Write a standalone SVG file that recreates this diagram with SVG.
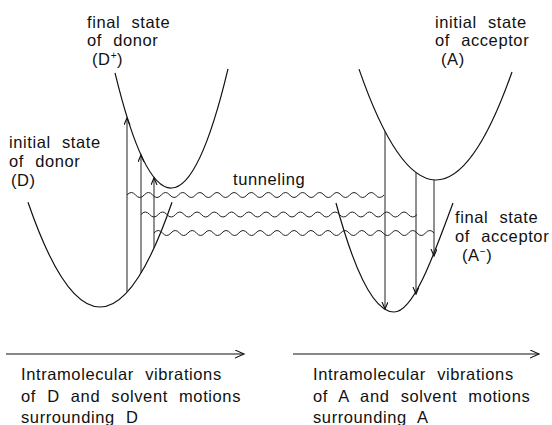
<svg xmlns="http://www.w3.org/2000/svg" width="552" height="425" viewBox="0 0 552 425">
<style>
  .c{fill:none;stroke:#111;stroke-width:1.2}
  .t{fill:none;stroke:#222;stroke-width:1}
  .w{fill:none;stroke:#222;stroke-width:1}
  text{font-family:"Liberation Sans",Arial,Helvetica,sans-serif;font-size:16.5px;fill:#111;letter-spacing:0.6px;word-spacing:6px}
  .sup{font-size:10px}
</style>
<defs>
  <marker id="ah" markerUnits="userSpaceOnUse" markerWidth="10" markerHeight="10" refX="7" refY="3" orient="auto">
    <path d="M0,0 L7,3 L0,6" fill="none" stroke="#111" stroke-width="1.1"/>
  </marker>
  <marker id="ax" markerUnits="userSpaceOnUse" markerWidth="12" markerHeight="12" refX="9" refY="4" orient="auto">
    <path d="M0,0 L9,4 L0,8" fill="none" stroke="#111" stroke-width="1.1"/>
  </marker>
</defs>

<g id="curve-D">
  <path class="c" d="M28,202.3 Q100,411.7 172,202.3"/>
</g>
<g id="curve-Dplus">
  <path class="c" d="M115,72.9 Q171.5,305.2 228,68.8"/>
</g>
<g id="curve-A">
  <path class="c" d="M359,69.1 Q435.5,289.4 512,72"/>
</g>
<g id="curve-Aminus">
  <path class="c" d="M336,203 C353,266 372,312 394,312 C414,312 435,251.6 453,203"/>
</g>

<g id="connectors">
  <!-- excitation arrows on donor side -->
  <line class="t" x1="127" y1="292" x2="127" y2="118" marker-end="url(#ah)"/>
  <line class="t" x1="141" y1="273" x2="141" y2="155" marker-end="url(#ah)"/>
  <line class="t" x1="154" y1="248" x2="154" y2="178" marker-end="url(#ah)"/>
  <!-- relaxation arrows on acceptor side -->
  <line class="t" x1="385" y1="131.4" x2="385" y2="309" marker-end="url(#ah)"/>
  <line class="t" x1="416" y1="172.5" x2="416" y2="294" marker-end="url(#ah)"/>
  <line class="t" x1="434" y1="180" x2="434" y2="256" marker-end="url(#ah)"/>
  <!-- tunneling waves -->
  <path class="w" d="M127,195 q4.28,-5 8.567,0 t8.567,0 t8.567,0 t8.567,0 t8.567,0 t8.567,0 t8.567,0 t8.567,0 t8.567,0 t8.567,0 t8.567,0 t8.567,0 t8.567,0 t8.567,0 t8.567,0 t8.567,0 t8.567,0 t8.567,0 t8.567,0 t8.567,0 t8.567,0 t8.567,0 t8.567,0 t8.567,0 t8.567,0 t8.567,0 t8.567,0 t8.567,0 t8.567,0 t8.567,0"/>
  <path class="w" d="M141,214.5 q4.31,-5 8.625,0 t8.625,0 t8.625,0 t8.625,0 t8.625,0 t8.625,0 t8.625,0 t8.625,0 t8.625,0 t8.625,0 t8.625,0 t8.625,0 t8.625,0 t8.625,0 t8.625,0 t8.625,0 t8.625,0 t8.625,0 t8.625,0 t8.625,0 t8.625,0 t8.625,0 t8.625,0 t8.625,0 t8.625,0 t8.625,0 t8.625,0 t8.625,0 t8.625,0 t8.625,0 t8.625,0 t8.625,0"/>
  <path class="w" d="M154,233 q4.24,-5 8.485,0 t8.485,0 t8.485,0 t8.485,0 t8.485,0 t8.485,0 t8.485,0 t8.485,0 t8.485,0 t8.485,0 t8.485,0 t8.485,0 t8.485,0 t8.485,0 t8.485,0 t8.485,0 t8.485,0 t8.485,0 t8.485,0 t8.485,0 t8.485,0 t8.485,0 t8.485,0 t8.485,0 t8.485,0 t8.485,0 t8.485,0 t8.485,0 t8.485,0 t8.485,0 t8.485,0 t8.485,0 t8.485,0"/>
  <!-- axes -->
  <line class="c" x1="6" y1="354" x2="244" y2="354" marker-end="url(#ax)"/>
  <line class="c" x1="293" y1="354" x2="539" y2="354" marker-end="url(#ax)"/>
</g>

<g id="label-final-donor">
  <text x="87" y="28">final state</text>
  <text x="87" y="46">of donor</text>
  <text x="92" y="65">(D<tspan class="sup" dy="-6">+</tspan><tspan dy="6">)</tspan></text>
</g>
<g id="label-initial-donor">
  <text x="9" y="148">initial state</text>
  <text x="9" y="167">of donor</text>
  <text x="11" y="186">(D)</text>
</g>
<g id="label-initial-acceptor">
  <text x="435" y="28">initial state</text>
  <text x="435" y="46">of acceptor</text>
  <text x="441" y="65">(A)</text>
</g>
<g id="label-final-acceptor">
  <text x="455" y="223">final state</text>
  <text x="455" y="242">of acceptor</text>
  <text x="462" y="261">(A<tspan class="sup" dy="-6">−</tspan><tspan dy="6">)</tspan></text>
</g>
<g id="label-tunneling">
  <text x="233" y="185">tunneling</text>
</g>
<g id="axis-label-D">
  <text x="21" y="380">Intramolecular vibrations</text>
  <text x="21" y="401.5">of D and solvent motions</text>
  <text x="21" y="423">surrounding D</text>
</g>
<g id="axis-label-A">
  <text x="313" y="380">Intramolecular vibrations</text>
  <text x="313" y="401.5">of A and solvent motions</text>
  <text x="313" y="423">surrounding A</text>
</g>
</svg>
